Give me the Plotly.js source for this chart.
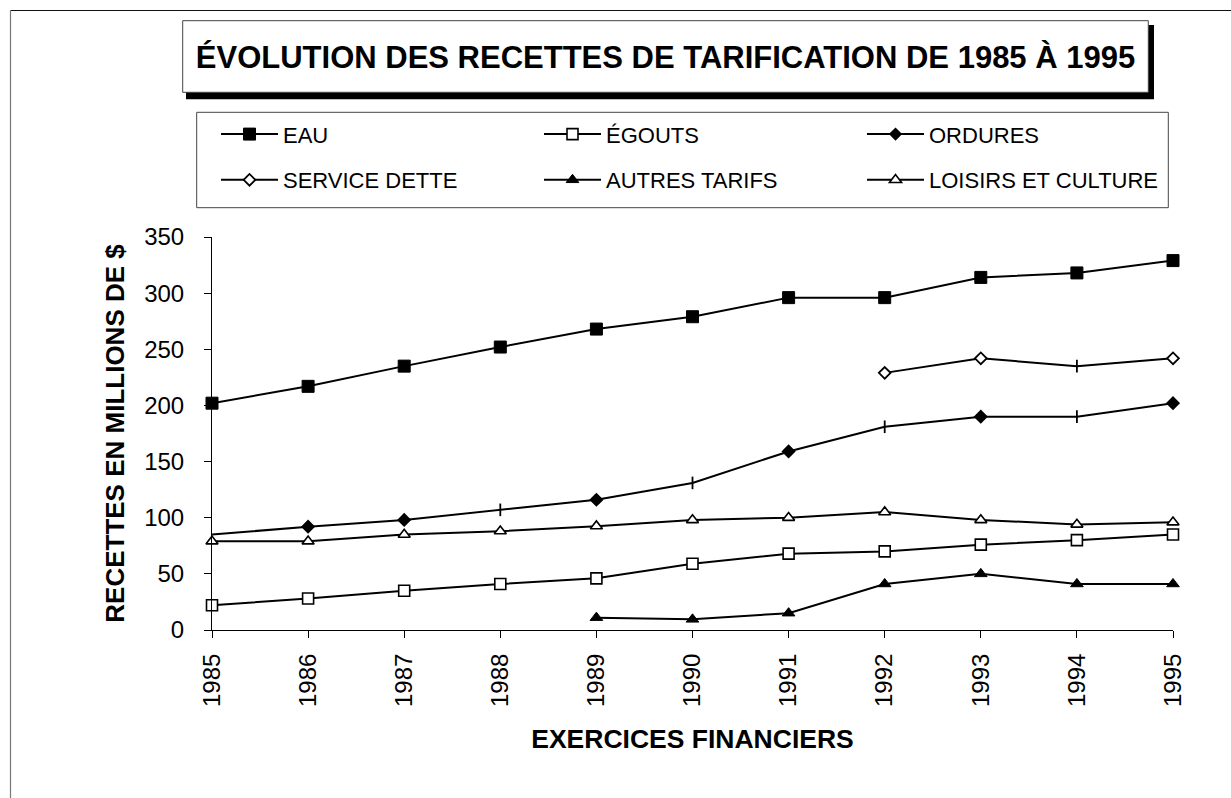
<!DOCTYPE html>
<html>
<head>
<meta charset="utf-8">
<script src="https://cdn.plot.ly/plotly-3.0.1.min.js"></script>
<style>
  html, body { margin: 0; padding: 0; background: #ffffff; }
  #chart { width: 1231px; height: 798px; }
</style>
</head>
<body>
<div id="chart"></div>
<script>
// ---------------- DATA ----------------
const YEARS = [1985, 1986, 1987, 1988, 1989, 1990, 1991, 1992, 1993, 1994, 1995];
const EAU = [202, 217, 235, 252, 268, 279, 296, 296, 314, 318, 329];
const EGOUTS = [22, 28, 35, 41, 46, 59, 68, 70, 76, 80, 85];
const ORDURES = [85, 92, 98, 107, 116, 131, 159, 181, 190, 190, 202];
const DETTE_YEARS = [1992, 1993, 1994, 1995];
const SERVICE_DETTE = [229, 242, 235, 242];
const AUTRES_YEARS = [1989, 1990, 1991, 1992, 1993, 1994, 1995];
const AUTRES_TARIFS = [11, 9.5, 15, 41, 50, 41, 41];
const LOISIRS = [79, 79, 85, 88, 92.5, 98, 100, 105, 98, 94, 96];

const SERIES_NAMES = ['EAU', 'ÉGOUTS', 'ORDURES', 'SERVICE DETTE', 'AUTRES TARIFS', 'LOISIRS ET CULTURE'];
const Y_TICKS = [0, 50, 100, 150, 200, 250, 300, 350];

const TITLE = 'ÉVOLUTION DES RECETTES DE TARIFICATION DE 1985 À 1995';
const X_TITLE = 'EXERCICES FINANCIERS';
const Y_TITLE = 'RECETTES EN MILLIONS DE $';

// ---------------- LAYOUT HELPERS ----------------
const W = 1231, H = 798;
const M = { l: 212, r: 58, t: 237, b: 168 };
const PW = W - M.l - M.r, PH = H - M.t - M.b;
const fx = px => (px - M.l) / PW;
const fy = py => (H - M.b - py) / PH;

const FONT = 'Liberation Sans, Arial, Helvetica, sans-serif';
const LINE = { color: '#000000', width: 2 };

// per-point marker styling (vertical tick style markers in the original)
const ORDURES_SYMBOLS = ['diamond', 'diamond', 'diamond', 'line-ns', 'diamond', 'line-ns', 'diamond', 'line-ns', 'diamond', 'line-ns', 'diamond'];
const ORDURES_SIZES = [0, 9, 9, 9, 9, 9, 9, 9, 9, 9, 9];
const DETTE_SYMBOLS = ['diamond', 'diamond', 'line-ns', 'diamond'];
const DETTE_COLORS = ['#ffffff', '#ffffff', '#000000', '#ffffff'];

const traces = [
  { x: YEARS, y: EAU, name: SERIES_NAMES[0], legend: 'legend',
    marker: { symbol: 'square', size: 12, color: '#000000', line: { color: '#000000', width: 1 } } },
  { x: YEARS, y: EGOUTS, name: SERIES_NAMES[1], legend: 'legend',
    marker: { symbol: 'square', size: 11, color: '#ffffff', line: { color: '#000000', width: 1.6 } } },
  { x: YEARS, y: ORDURES, name: SERIES_NAMES[2], legend: 'legend',
    marker: { symbol: ORDURES_SYMBOLS, size: ORDURES_SIZES, opacity: 1, color: '#000000', line: { color: '#000000', width: 1.8 } } },
  { x: DETTE_YEARS, y: SERVICE_DETTE, name: SERIES_NAMES[3], legend: 'legend2',
    marker: { symbol: DETTE_SYMBOLS, size: 9, opacity: 1, color: DETTE_COLORS, line: { color: '#000000', width: 1.8 } } },
  { x: AUTRES_YEARS, y: AUTRES_TARIFS, name: SERIES_NAMES[4], legend: 'legend2',
    marker: { symbol: 'triangle-up', size: 11, color: '#000000', line: { color: '#000000', width: 1 } } },
  { x: YEARS, y: LOISIRS, name: SERIES_NAMES[5], legend: 'legend2',
    marker: { symbol: 'triangle-up', size: 10.5, color: '#ffffff', line: { color: '#000000', width: 1.6 } } }
].map(t => Object.assign({ type: 'scatter', mode: 'lines+markers', line: LINE, cliponaxis: false }, t));

const LEG_BW = 10;
const legendBase = {
  orientation: 'h', xanchor: 'left', yanchor: 'middle',
  bgcolor: 'rgba(0,0,0,0)', bordercolor: 'rgba(0,0,0,0)', borderwidth: LEG_BW,
  font: { family: FONT, size: 22, color: '#000000' },
  itemwidth: 57, entrywidth: 251, entrywidthmode: 'pixels',
  itemclick: false, itemdoubleclick: false, traceorder: 'normal'
};

const layout = {
  width: W, height: H,
  margin: M,
  paper_bgcolor: '#ffffff', plot_bgcolor: '#ffffff',
  showlegend: true,
  font: { family: FONT, color: '#000000' },
  title: {
    text: TITLE,
    font: { family: FONT, size: 31, weight: 'bold', color: '#000000' },
    xref: 'container', yref: 'container',
    x: 665.5 / W, xanchor: 'center',
    y: 1 - 57 / H, yanchor: 'middle'
  },
  xaxis: {
    range: [1985, 1995], dtick: 1, tick0: 1985,
    tickangle: -90,
    ticks: 'outside', ticklen: 7, tickwidth: 1, tickcolor: '#000000',
    showline: true, linecolor: '#000000', linewidth: 1,
    showgrid: false, zeroline: false,
    tickfont: { family: FONT, size: 24, color: '#000000' },
    ticklabelstandoff: 6,
    title: { text: X_TITLE, font: { family: FONT, size: 26.5, weight: 'bold', color: '#000000' }, standoff: 23 }
  },
  yaxis: {
    range: [0, 350], tickvals: Y_TICKS,
    ticks: 'outside', ticklen: 7, tickwidth: 1, tickcolor: '#000000',
    showline: true, linecolor: '#000000', linewidth: 1,
    showgrid: false, zeroline: false,
    tickfont: { family: FONT, size: 24, color: '#000000' },
    ticklabelstandoff: 15,
    title: { text: Y_TITLE, font: { family: FONT, size: 26, weight: 'bold', color: '#000000' }, standoff: 12 }
  },
  legend: Object.assign({}, legendBase, { x: fx(216 - LEG_BW), y: fy(134.3) }),
  legend2: Object.assign({}, legendBase, { x: fx(216 - LEG_BW), y: fy(180) }),
  shapes: [
    // outer frame (top & left)
    { type: 'line', xref: 'paper', yref: 'paper', x0: fx(10), x1: fx(1231), y0: fy(10.5), y1: fy(10.5), line: { color: '#111111', width: 1.2 }, layer: 'below' },
    { type: 'line', xref: 'paper', yref: 'paper', x0: fx(10.5), x1: fx(10.5), y0: fy(10), y1: fy(798), line: { color: '#777777', width: 1.2 }, layer: 'below' },
    // title shadow + box
    { type: 'rect', xref: 'paper', yref: 'paper', x0: fx(186), x1: fx(1154), y0: fy(99.3), y1: fy(25), fillcolor: '#000000', line: { width: 0 }, layer: 'below' },
    { type: 'rect', xref: 'paper', yref: 'paper', x0: fx(182.7), x1: fx(1148.3), y0: fy(92.3), y1: fy(20.7), fillcolor: '#ffffff', line: { color: '#444444', width: 1 }, layer: 'below' },
    // legend box
    { type: 'rect', xref: 'paper', yref: 'paper', x0: fx(196.7), x1: fx(1168.3), y0: fy(207.7), y1: fy(112.3), fillcolor: '#ffffff', line: { color: '#444444', width: 1 }, layer: 'below' }
  ]
};

Plotly.newPlot('chart', traces, layout, { displayModeBar: false, staticPlot: true });
</script>
</body>
</html>
